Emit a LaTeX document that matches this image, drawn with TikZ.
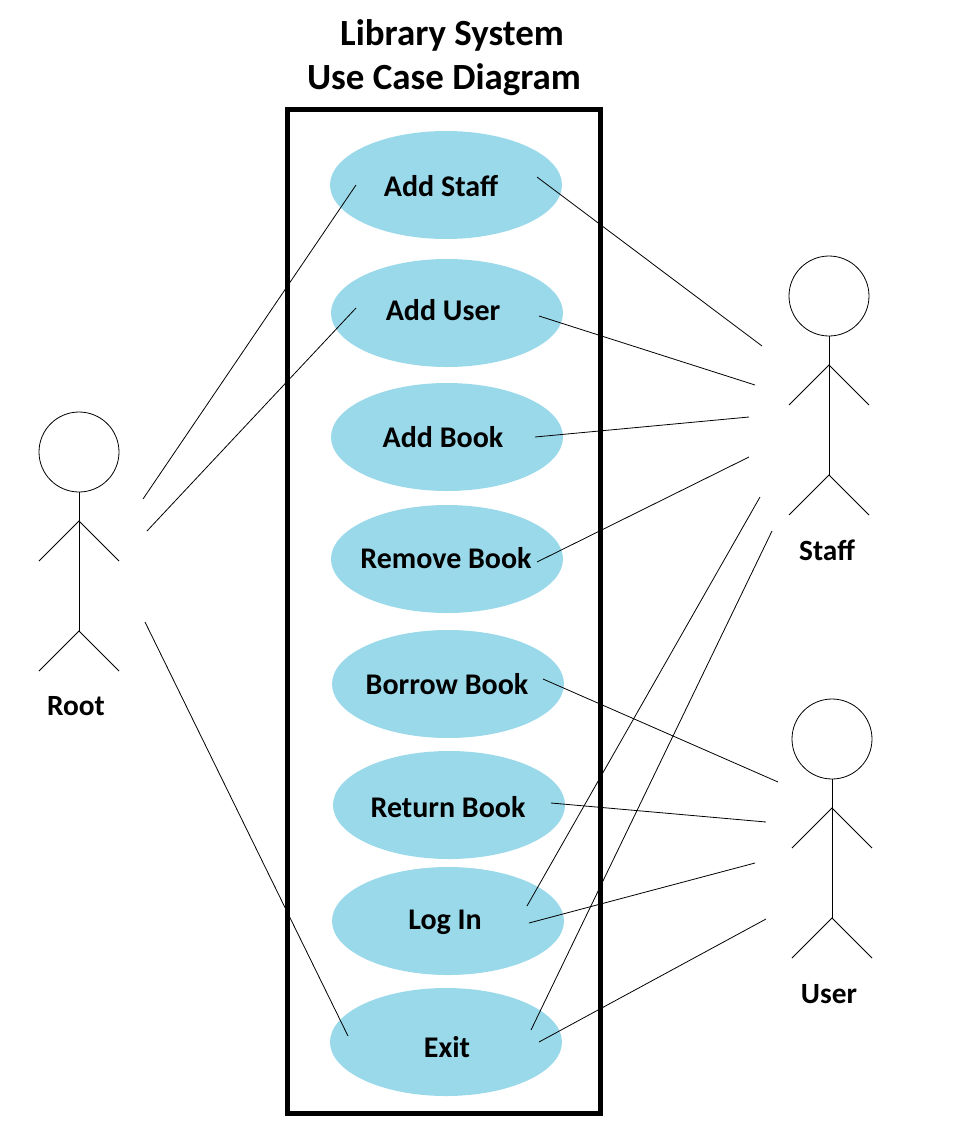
\documentclass[tikz,border=0pt]{standalone}
\usepackage{fontspec}
\setmainfont{Carlito}
\definecolor{ucblue}{RGB}{153,217,234}
\tikzset{
  usecase/.style={ellipse,fill=ucblue,minimum width=174pt,minimum height=81pt,inner sep=0pt},
  uclabel/.style={font=\fontsize{22.5}{24}\selectfont\bfseries,inner sep=0pt,anchor=center},
  actorname/.style={font=\fontsize{22}{24}\selectfont\bfseries,inner sep=0pt,anchor=center},
  titletext/.style={font=\fontsize{27.7}{30}\selectfont\bfseries,inner sep=0pt,anchor=center},
  wire/.style={black,line width=0.6pt},
  frame/.style={black,line width=3.75pt},
  stick/.style={black,line width=0.6pt}
}
\usetikzlibrary{shapes.geometric}
\newcommand{\stickman}[4]{% name, x, y of head centre, 
  \node[circle,draw,stick,minimum size=60pt,inner sep=0pt] (#1head) at (#2,#3) {};
  \coordinate (#1neck) at (#2,#3+69);
  \coordinate (#1hip) at (#2,#3+179);
  \coordinate (#1la) at (#2-40,#3+109);
  \coordinate (#1ra) at (#2+40,#3+109);
  \coordinate (#1ll) at (#2-40,#3+219);
  \coordinate (#1rl) at (#2+40,#3+219);
  \draw[stick] (#1head.south) -- (#1hip);
  \draw[stick] (#1la) -- (#1neck) -- (#1ra);
  \draw[stick] (#1ll) -- (#1hip) -- (#1rl);
}
\begin{document}
\begin{tikzpicture}[x=0.75pt,y=-0.75pt]
\useasboundingbox (0,0) rectangle (978,1146);
\node[titletext] (t1) at (452,35) {Library System};
\node[titletext] (t2) at (444,80) {Use Case Diagram};
\node[usecase] (e1) at (446,185) {};
\node[usecase] (e2) at (447,313) {};
\node[usecase] (e3) at (447,437) {};
\node[usecase] (e4) at (447,559) {};
\node[usecase] (e5) at (448,684) {};
\node[usecase] (e6) at (449,805) {};
\node[usecase] (e7) at (448,921) {};
\node[usecase] (e8) at (446,1042) {};
\draw[frame] (287.5,109.5) rectangle (600.5,1113);
\node[uclabel] (l1) at (441,186) {Add Staff};
\node[uclabel] (l2) at (443,310) {Add User};
\node[uclabel] (l3) at (443,437) {Add Book};
\node[uclabel] (l4) at (446,558) {Remove Book};
\node[uclabel] (l5) at (447,684) {Borrow Book};
\node[uclabel] (l6) at (448,807) {Return Book};
\node[uclabel] (l7) at (445,922) {Log In};
\node[uclabel] (l8) at (447,1047) {Exit};
\stickman{root}{79}{452}{}
\stickman{staff}{829}{296}{}
\stickman{user}{832}{739}{}
\node[actorname] (nroot) at (76,706) {Root};
\node[actorname] (nstaff) at (827,550) {Staff};
\node[actorname] (nuser) at (829,994) {User};
% connector ends
\foreach \n/\x/\y in {a1/356/185,a2/143/499,b1/356/308,b2/147/531,c1/348/1036,c2/145/622,
  d1/537/177,d2/762/346,f1/539/316,f2/755/385,g1/535/437,g2/749/417,h1/537/562,h2/749/457,
  i1/527/906,i2/760/497,j1/531/1030,j2/772/531,k1/543/679,k2/778/782,m1/551/803,m2/766/822,
  o1/529/923,o2/755/863,p1/539/1042,p2/766/919}{\coordinate (\n) at (\x,\y);}
\foreach \u/\v in {a1/a2,b1/b2,c1/c2,d1/d2,f1/f2,g1/g2,h1/h2,i1/i2,j1/j2,k1/k2,m1/m2,o1/o2,p1/p2}{\draw[wire] (\u) -- (\v);}
\end{tikzpicture}
\end{document}
